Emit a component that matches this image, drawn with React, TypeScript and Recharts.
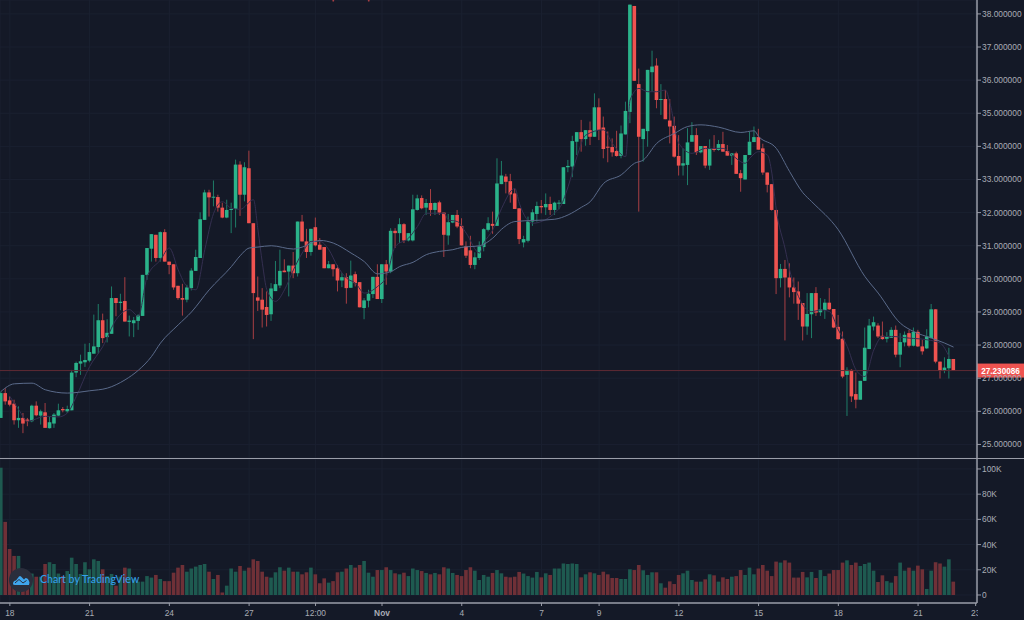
import { Bar, CartesianGrid, ComposedChart, Line, ReferenceDot, ReferenceLine, XAxis, YAxis } from "recharts";

const opens = [
  25.8, 26.55, 26.33, 26.23, 25.73, 25.8, 25.75, 25.7, 26.17, 25.87,
  25.97, 25.49, 25.63, 25.87, 26.07, 26.0, 26.03, 27.17, 27.44, 27.48,
  27.53, 27.74, 27.94, 28.75, 28.24, 28.34, 29.42, 29.27, 29.33, 28.7,
  28.66, 28.73, 28.88, 30.12, 30.91, 31.33, 30.63, 31.41, 30.52, 30.44,
  29.79, 29.42, 29.37, 29.72, 30.24, 30.63, 31.78, 32.61, 32.46, 32.47,
  32.15, 31.85, 32.08, 32.11, 33.45, 32.54, 33.34, 31.68, 29.44, 29.37,
  29.15, 28.93, 29.63, 29.8, 30.25, 30.22, 30.4, 30.17, 31.73, 31.13,
  30.81, 31.56, 31.03, 30.96, 30.32, 30.44, 30.32, 29.95, 30.05, 29.73,
  30.14, 29.9, 29.12, 29.34, 29.54, 30.06, 29.39, 30.44, 30.22, 31.45,
  31.38, 31.65, 31.16, 31.16, 32.08, 32.44, 32.15, 32.29, 32.08, 32.31,
  32.0, 31.31, 31.7, 31.93, 31.6, 30.98, 30.86, 30.42, 30.63, 30.96,
  31.48, 31.66, 31.6, 32.86, 33.09, 32.95, 32.58, 32.13, 31.1, 31.15,
  31.73, 31.96, 32.2, 32.16, 32.26, 32.08, 32.28, 32.26, 33.37, 33.39,
  34.14, 34.43, 34.22, 34.49, 34.29, 35.18, 34.57, 33.99, 33.98, 33.86,
  33.71, 34.36, 35.04, 38.24, 35.88, 34.22, 34.46, 36.24, 36.44, 35.4,
  35.43, 34.78, 34.62, 33.71, 33.42, 33.44, 34.14, 34.34, 33.82, 34.01,
  33.42, 33.94, 33.89, 34.07, 33.86, 33.72, 33.79, 33.19, 33.0, 33.74,
  34.13, 34.28, 33.94, 33.21, 32.86, 32.08, 30.02, 30.3, 30.04, 29.74,
  29.62, 29.27, 28.56, 28.93, 29.57, 28.99, 29.06, 29.28, 29.09, 28.55,
  28.19, 27.1, 27.25, 26.52, 26.35, 26.92, 27.88, 28.56, 28.59, 28.28,
  28.19, 28.22, 28.46, 27.71, 28.08, 28.36, 27.98, 28.4, 27.96, 27.9,
  28.21, 29.08, 27.5, 27.22, 27.3, 27.58,
];
const highs = [
  26.6, 26.7, 26.45, 26.35, 26.15, 25.95, 25.8, 26.2, 26.3, 26.05,
  26.25, 25.85, 25.95, 26.23, 26.13, 26.17, 27.25, 27.5, 27.71, 28.04,
  28.06, 28.92, 29.24, 28.95, 28.78, 29.77, 29.42, 29.55, 30.05, 28.89,
  28.85, 28.93, 30.12, 30.93, 31.35, 31.33, 31.43, 31.5, 30.52, 30.44,
  29.79, 29.85, 29.82, 30.32, 30.88, 32.01, 32.69, 32.69, 32.97, 32.54,
  32.3, 32.39, 32.3, 33.6, 33.55, 33.52, 33.87, 31.68, 30.07, 29.72,
  29.62, 29.87, 30.54, 30.88, 30.59, 30.4, 30.81, 31.73, 31.93, 31.51,
  31.51, 31.85, 31.23, 30.96, 30.54, 30.44, 30.42, 30.17, 30.17, 30.55,
  30.22, 29.9, 29.42, 29.67, 30.06, 30.44, 30.44, 30.57, 31.53, 31.53,
  31.83, 31.68, 31.38, 32.54, 32.54, 32.52, 32.41, 32.71, 32.31, 32.36,
  32.0, 31.96, 31.93, 32.08, 31.83, 31.13, 31.3, 30.8, 31.13, 31.53,
  31.86, 32.03, 33.64, 33.56, 33.17, 33.17, 32.73, 32.13, 31.3, 31.88,
  32.1, 32.33, 32.38, 32.58, 32.48, 32.33, 32.38, 33.37, 33.59, 34.32,
  34.43, 34.8, 34.49, 34.75, 35.6, 35.45, 34.9, 34.45, 34.24, 34.47,
  34.63, 35.35, 38.28, 38.24, 36.35, 34.53, 36.31, 36.89, 36.66, 35.88,
  35.7, 35.43, 34.9, 34.34, 33.94, 34.55, 34.73, 34.55, 34.01, 34.01,
  34.21, 34.34, 34.19, 34.44, 34.04, 33.79, 33.84, 33.29, 33.74, 34.44,
  34.6, 34.53, 34.08, 33.21, 32.86, 32.08, 30.45, 30.57, 30.47, 30.04,
  29.92, 29.27, 29.57, 29.57, 29.75, 29.42, 29.39, 29.72, 29.09, 28.91,
  28.41, 27.33, 27.27, 27.17, 26.92, 28.53, 28.79, 28.86, 28.66, 28.71,
  28.39, 28.54, 28.59, 28.36, 28.41, 28.46, 28.53, 28.46, 28.16, 28.48,
  29.24, 29.08, 27.5, 27.63, 27.92, 27.58,
];
const lows = [
  25.8, 26.2, 26.15, 25.6, 25.5, 25.34, 25.55, 25.67, 25.85, 25.6,
  25.5, 25.48, 25.5, 25.85, 25.97, 25.95, 26.03, 27.03, 27.1, 27.34,
  27.48, 27.74, 27.74, 28.06, 28.08, 28.34, 28.87, 29.05, 28.71, 28.26,
  28.24, 28.46, 28.88, 29.97, 30.52, 30.52, 30.52, 30.52, 30.14, 29.67,
  29.37, 28.89, 29.29, 29.65, 30.24, 30.63, 31.78, 31.88, 32.19, 32.03,
  31.83, 31.83, 31.38, 31.55, 31.9, 32.34, 31.68, 28.18, 29.03, 28.53,
  28.56, 28.73, 29.63, 29.72, 30.2, 29.47, 30.02, 30.07, 31.13, 30.63,
  30.7, 30.98, 30.88, 30.32, 30.32, 30.07, 29.62, 29.75, 29.25, 29.73,
  29.77, 29.14, 28.78, 29.14, 29.42, 29.39, 29.27, 29.82, 30.17, 30.93,
  31.08, 31.08, 31.13, 31.13, 32.06, 32.1, 31.93, 31.9, 31.93, 31.93,
  30.66, 31.03, 31.68, 31.53, 31.01, 30.63, 30.32, 30.29, 30.57, 30.83,
  31.43, 31.36, 31.6, 32.86, 32.58, 32.3, 32.11, 31.05, 30.95, 31.1,
  31.6, 31.73, 31.98, 31.93, 31.93, 31.93, 32.1, 32.26, 33.22, 33.07,
  33.74, 33.84, 34.02, 34.04, 34.29, 34.19, 33.64, 33.52, 33.69, 33.69,
  33.64, 34.36, 34.7, 35.98, 32.03, 33.54, 33.99, 35.65, 35.15, 34.95,
  34.82, 34.09, 33.66, 33.12, 33.12, 32.83, 34.14, 33.74, 33.79, 33.34,
  33.29, 33.84, 33.87, 33.84, 33.72, 33.44, 33.17, 32.63, 33.0, 33.74,
  34.13, 33.9, 33.14, 32.61, 32.06, 29.54, 29.74, 28.14, 29.44, 29.25,
  28.76, 28.14, 28.31, 28.21, 28.88, 28.88, 28.79, 29.06, 28.51, 28.16,
  27.0, 25.86, 26.28, 26.09, 26.35, 26.92, 27.88, 28.44, 28.21, 28.16,
  28.08, 28.22, 27.63, 27.33, 27.96, 27.93, 27.96, 27.94, 27.71, 27.88,
  28.21, 27.45, 26.99, 27.15, 26.99, 27.23,
];
const closes = [
  26.55, 26.3, 26.2, 25.73, 25.8, 25.63, 25.7, 26.17, 25.88, 26.0,
  25.5, 25.67, 25.9, 26.03, 26.03, 26.07, 27.17, 27.46, 27.51, 27.55,
  27.79, 27.96, 28.75, 28.21, 28.37, 29.42, 29.27, 29.31, 28.71, 28.74,
  28.75, 28.9, 30.12, 30.93, 31.35, 30.63, 31.41, 30.52, 30.42, 29.74,
  29.42, 29.37, 29.74, 30.25, 30.66, 31.8, 32.61, 32.46, 32.48, 32.15,
  31.85, 32.08, 32.11, 33.45, 32.54, 33.37, 31.68, 29.57, 29.34, 29.07,
  28.91, 29.71, 29.84, 30.24, 30.2, 30.4, 30.17, 31.73, 31.13, 30.81,
  31.51, 31.01, 30.88, 30.32, 30.44, 30.29, 29.95, 30.05, 29.72, 30.1,
  29.87, 29.14, 29.35, 29.55, 30.06, 29.39, 30.44, 30.22, 31.45, 31.38,
  31.65, 31.16, 31.38, 32.1, 32.43, 32.13, 32.29, 32.08, 32.29, 32.0,
  31.33, 31.71, 31.93, 31.58, 31.01, 30.7, 30.42, 30.65, 30.98, 31.5,
  31.68, 31.6, 32.88, 33.12, 32.93, 32.55, 32.11, 31.2, 31.2, 31.73,
  32.01, 32.2, 32.16, 32.26, 32.08, 32.3, 32.3, 33.37, 33.41, 34.16,
  34.43, 34.22, 34.49, 34.29, 35.18, 34.5, 33.92, 33.96, 33.82, 33.71,
  34.39, 35.07, 38.28, 35.98, 34.29, 34.53, 36.31, 36.41, 35.4, 35.43,
  34.82, 34.6, 33.69, 33.42, 33.49, 34.12, 34.34, 33.82, 34.01, 33.42,
  33.94, 33.89, 34.07, 33.84, 33.72, 33.79, 33.17, 33.04, 33.74, 34.14,
  34.28, 33.9, 33.21, 32.84, 32.08, 30.02, 30.3, 30.04, 29.74, 29.6,
  29.25, 28.56, 28.94, 29.57, 28.98, 29.08, 29.28, 29.08, 28.53, 28.18,
  27.05, 27.25, 26.45, 26.35, 26.92, 27.92, 28.59, 28.69, 28.26, 28.18,
  28.25, 28.46, 27.71, 28.09, 28.31, 27.98, 28.4, 27.96, 27.81, 28.26,
  29.08, 27.5, 27.22, 27.32, 27.58, 27.23,
];
const volumes = [
  101, 58, 36.5, 31, 31, 18, 16, 17, 14.5, 14.5,
  24.6, 26, 24.6, 17, 15, 19, 29.6, 24.6, 16.7, 26,
  20.4, 28.3, 27, 20.4, 15, 16.7, 7.4, 14.5, 21.7, 21,
  13, 10.6, 10.6, 15, 13.8, 15.9, 12.7, 11, 11, 17.7,
  21.7, 23.8, 18.5, 21, 22.5, 23.8, 24.6, 18.5, 12.7, 15.9,
  2, 7.4, 21, 18.5, 23, 19.3, 21.7, 28.3, 27, 18.5,
  14.5, 13.8, 18, 22, 19.3, 21.7, 18.5, 18.5, 16.4, 18,
  21.7, 16.4, 9.3, 13.2, 9.8, 11, 18, 18.5, 21, 23.8,
  21.7, 23.8, 27, 17.7, 14.5, 19.8, 19.8, 22, 19.8, 17.2,
  16.4, 17.7, 15, 21, 19.8, 19, 17.5, 16.4, 17.5, 16.4,
  22, 21, 17.5, 15.9, 15, 19.8, 22, 19.3, 11.9, 15.9,
  14.5, 17.5, 19.8, 17.2, 14.5, 14, 14.5, 18.3, 17, 15,
  13.8, 18.3, 14, 17.2, 15.9, 21, 21, 25, 24.6, 25,
  24.6, 14, 16.4, 18, 17.2, 15.9, 18.5, 16.4, 13.5, 13.5,
  12.7, 12.7, 20.4, 19.8, 23.8, 19.6, 15.9, 18, 18, 9.3,
  5.8, 10.8, 8.7, 15.9, 17.2, 19.3, 11.9, 10.6, 10.6, 12.4,
  16.4, 15.6, 10.6, 14, 12.7, 14.5, 15, 19.8, 15.9, 21.7,
  16.4, 21, 23.8, 19.3, 15, 26.5, 25.7, 27.5, 25.7, 13.8,
  13.8, 18.3, 14, 18.3, 13.5, 19.8, 15, 17, 19.8, 19.8,
  25.7, 27.5, 23.8, 25.7, 23, 24.6, 25.7, 19.3, 10.3, 15.6,
  11, 9.8, 15, 25.7, 19.3, 21.7, 19.3, 23.3, 20.4, 4.8,
  19.3, 26, 25, 22.5, 28.3, 10.6,
];

// moving averages at the candles where the curve is clearest
const slowAt = [0, 3, 7, 10, 15, 20, 24, 28, 31, 34, 36, 40, 43, 47, 52, 54, 56, 58, 61, 66, 68, 72, 75, 79, 82, 85, 88, 90, 93, 96, 99, 102, 104, 108, 111, 113, 116, 125, 128, 131, 133, 136, 140, 143, 145, 148, 152, 155, 158, 162, 167, 170, 171, 175, 178, 181, 183, 189, 195, 198, 203, 206, 210, 213, 215];
const slowMa = [26.6, 26.83, 26.85, 26.65, 26.55, 26.62, 26.7, 26.95, 27.24, 27.66, 28.06, 28.61, 29.0, 29.67, 30.37, 30.7, 30.93, 30.96, 31.0, 30.9, 30.96, 31.16, 31.08, 30.78, 30.52, 30.15, 30.22, 30.37, 30.5, 30.73, 30.83, 30.88, 30.95, 31.0, 31.23, 31.5, 31.73, 31.8, 31.93, 32.16, 32.33, 32.88, 33.14, 33.49, 33.59, 34.09, 34.39, 34.6, 34.65, 34.58, 34.42, 34.47, 34.3, 33.94, 33.24, 32.6, 32.33, 31.48, 30.07, 29.57, 28.66, 28.41, 28.21, 28.06, 27.94];
const fastAt = [2, 4, 6, 10, 13, 15, 17, 20, 23, 26, 29, 31, 33, 36, 38, 40, 42, 44, 46, 48, 50, 52, 54, 57, 58, 59, 60, 62, 64, 66, 68, 70, 72, 74, 76, 78, 80, 82, 85, 87, 89, 92, 94, 96, 100, 101, 103, 105, 108, 109, 111, 113, 116, 117, 120, 126, 128, 130, 132, 136, 138, 141, 142, 144, 146, 148, 150, 151, 153, 156, 159, 163, 165, 168, 169, 171, 173, 174, 175, 177, 178, 180, 183, 185, 187, 189, 191, 193, 195, 197, 199, 201, 205, 209, 212, 214];
const fastMa = [26.45, 26.05, 25.7, 25.85, 25.83, 25.95, 26.45, 27.35, 27.96, 28.77, 29.07, 28.87, 30.07, 30.57, 30.93, 30.27, 29.77, 29.67, 30.88, 31.98, 32.33, 32.13, 32.1, 32.39, 31.48, 30.47, 29.67, 29.32, 29.67, 30.27, 30.78, 31.13, 31.13, 30.88, 30.37, 30.02, 29.87, 29.57, 29.77, 30.07, 30.98, 31.23, 31.58, 31.98, 31.98, 31.78, 31.73, 31.38, 30.78, 31.08, 31.48, 32.13, 32.73, 32.28, 31.68, 32.13, 32.78, 33.69, 34.34, 34.5, 34.09, 33.69, 35.4, 35.75, 35.65, 35.65, 35.7, 35.3, 34.09, 33.79, 33.94, 33.94, 33.74, 33.49, 33.64, 33.84, 33.74, 33.19, 32.08, 30.9, 30.27, 29.47, 29.01, 29.06, 29.01, 28.46, 27.96, 27.25, 27.05, 27.85, 28.26, 28.26, 28.21, 28.16, 28.06, 27.65];

const xTicks = [2, 20, 38, 56, 71, 86, 104, 122, 135, 153, 171, 189, 207, 220];
const xLabels = ["18", "21", "24", "27", "12:00", "Nov", "4", "7", "9", "12", "15", "18", "21", "23"];
const priceTicks = [25, 26, 27, 28, 29, 30, 31, 32, 33, 34, 35, 36, 37, 38];
const volumeTicks = [0, 20000, 40000, 60000, 80000, 100000];
const lastPrice = 27.230086;
// the two wick ends that just reach into the frame at the top edge
const topEdgeMarks = [75, 83];

const BG = "#141927";
const GRID = "#1a2030";
const AXIS = "#9a9da8";
const TEXT = "#a9acb5";
const UP = "#2bb38a";
const DOWN = "#ef5350";
const FONT = "'Liberation Sans', Arial, sans-serif";
const FONT_SIZE = 8.4;

const rows = opens.map((open, i) => ({
  i,
  open,
  high: highs[i],
  low: lows[i],
  close: closes[i],
  range: [lows[i], highs[i]],
  vol: volumes[i] * 1000,
  slow: slowAt.includes(i) ? slowMa[slowAt.indexOf(i)] : null,
  fast: fastAt.includes(i) ? fastMa[fastAt.indexOf(i)] : null,
}));

const xDomain = [-0.226, 220.3];

function Candle(props: any) {
  const { x, y, width, height, payload } = props;
  const { open, high, low, close } = payload;
  const perUnit = height / (high - low);
  const cx = x + width / 2;
  const up = close >= open;
  const top = y + (high - Math.max(open, close)) * perUnit;
  const h = Math.max(Math.abs(open - close) * perUnit, 1);
  return (
    <g>
      <line x1={cx} x2={cx} y1={y} y2={y + height} stroke={up ? "#1f7d68" : "#a83f44"} strokeWidth={1} />
      <rect x={cx - 1.8} y={top} width={3.6} height={h} fill={up ? UP : DOWN} />
    </g>
  );
}

function VolumeBar(props: any) {
  const { x, y, width, height, payload } = props;
  const up = payload.close >= payload.open;
  return <rect x={x + width / 2 - 1.8} y={y} width={3.6} height={height} fill={up ? "#1e5a50" : "#6f3037"} />;
}

function DateTick(props: any) {
  const { x, y, payload } = props;
  const label = xLabels[xTicks.indexOf(payload.value)];
  return (
    <text x={x} y={y + 8} textAnchor="middle" fill={TEXT} fontSize={FONT_SIZE} fontFamily={FONT} fontWeight={label === "Nov" ? 700 : 400}>
      {label}
    </text>
  );
}

function PriceTag(props: any) {
  const { viewBox } = props;
  const left = viewBox.x + viewBox.width;
  return (
    <g>
      <rect x={left} y={viewBox.y - 7} width={47} height={14} fill={DOWN} />
      <text x={left + 23.5} y={viewBox.y + 3} textAnchor="middle" fill="#fff" fontSize={8.2} fontWeight={700} fontFamily={FONT}>
        {lastPrice.toFixed(6)}
      </text>
    </g>
  );
}

export default function App() {
  const axisTick = { fill: TEXT, fontSize: FONT_SIZE, fontFamily: FONT };
  const axisLine = { stroke: AXIS, strokeWidth: 1.5 };
  return (
    <div style={{ position: "absolute", left: 0, top: 0, width: 1024, height: 620, background: BG, overflow: "hidden" }}>
      <div style={{ position: "absolute", left: 0, top: 0 }}>
        <ComposedChart width={1024} height={458} data={rows} margin={{ top: 0, right: 0, bottom: 0, left: 0 }}>
          <CartesianGrid stroke={GRID} />
          <XAxis dataKey="i" type="number" scale="linear" domain={xDomain} ticks={xTicks} allowDataOverflow hide />
          <YAxis
            orientation="right"
            width={47}
            domain={[24.59, 38.42]}
            ticks={priceTicks}
            allowDataOverflow
            interval={0}
            axisLine={axisLine}
            tickLine={{ stroke: AXIS }}
            tickSize={4}
            tickMargin={1}
            tick={axisTick}
            tickFormatter={(v: number) => v.toFixed(6)}
          />
          <ReferenceLine y={lastPrice} stroke="#5f2a34" strokeWidth={1} label={<PriceTag />} />
          <Line dataKey="fast" stroke="#342f50" strokeWidth={1} dot={false} activeDot={false} connectNulls type="monotone" isAnimationActive={false} />
          <Line dataKey="slow" stroke="#5a6a8a" strokeWidth={1} dot={false} activeDot={false} connectNulls type="monotone" isAnimationActive={false} />
          <Bar dataKey="range" barSize={4} shape={<Candle />} isAnimationActive={false} />
          {topEdgeMarks.map((i) => (
            <ReferenceDot key={i} x={i} y={38.4} r={0.9} fill="#a83f44" stroke="none" />
          ))}
        </ComposedChart>
      </div>
      <div style={{ position: "absolute", left: 0, top: 458, width: 1024, height: 1, background: AXIS }} />
      <div style={{ position: "absolute", left: 0, top: 459 }}>
        <ComposedChart width={1024} height={161} data={rows} margin={{ top: 0, right: 0, bottom: 0, left: 0 }}>
          <CartesianGrid stroke={GRID} />
          <XAxis
            dataKey="i"
            type="number"
            scale="linear"
            domain={xDomain}
            ticks={xTicks}
            allowDataOverflow
            interval={0}
            height={17}
            axisLine={axisLine}
            tickLine={{ stroke: AXIS }}
            tickSize={3}
            tick={<DateTick />}
          />
          <YAxis
            orientation="right"
            width={47}
            domain={[-6350, 107900]}
            ticks={volumeTicks}
            allowDataOverflow
            interval={0}
            axisLine={axisLine}
            tickLine={{ stroke: AXIS }}
            tickSize={4}
            tickMargin={1}
            tick={axisTick}
            tickFormatter={(v: number) => (v === 0 ? "0" : `${v / 1000}K`)}
          />
          <Bar dataKey="vol" barSize={4} shape={<VolumeBar />} isAnimationActive={false} />
        </ComposedChart>
      </div>
      <div style={{ position: "absolute", left: 978, top: 604, width: 46, height: 16, background: BG }} />
      <svg width={26} height={26} style={{ position: "absolute", left: 8, top: 567 }}>
        <circle cx={13} cy={13} r={12} fill="#2a2e3c" />
        <path d="M5 17 Q5 13.5 8 13.5 L11 9.5 Q12 8.5 13 9.5 L16 12.5 L17.5 11 Q20 11 21 14 Q22 15 21 18 L7 18 Q5 18 5 17 Z" fill="#3fa6ee" />
        <path d="M7 16 L11 12.5 L15 16 L18.5 13.5" fill="none" stroke="#2a2e3c" strokeWidth={1} />
      </svg>
      <div style={{ position: "absolute", left: 40, top: 573, color: "#35a0ef", fontSize: 10.6, fontFamily: "'Lato', sans-serif", whiteSpace: "nowrap" }}>
        Chart by TradingView
      </div>
    </div>
  );
}
